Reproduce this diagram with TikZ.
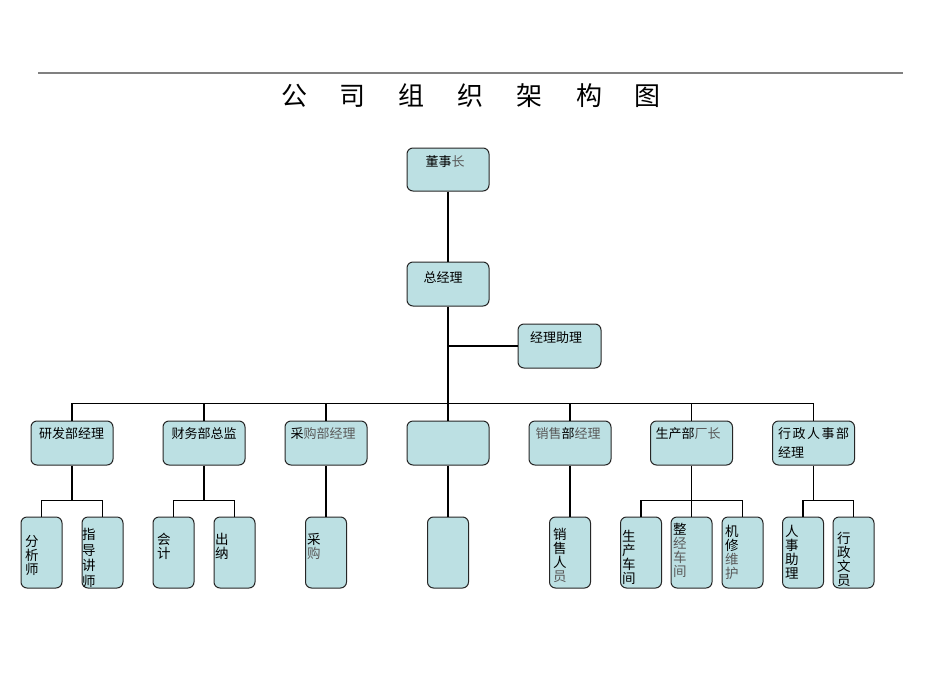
\documentclass[tikz,border=0pt]{standalone}
\usepackage{fontspec}
\newfontfamily\cjk{Noto Sans CJK SC}
\definecolor{boxfill}{HTML}{BCE0E3}
\definecolor{lightink}{HTML}{5A5A5A}
\definecolor{rulegray}{HTML}{808080}
\newcommand{\lt}[1]{\textcolor{lightink}{#1}}
\newcommand{\tsp}{\hspace{33pt}}
\begin{document}
\begin{tikzpicture}[x=1pt,y=-1pt,
  box/.style={draw=black!85, line width=1pt, fill=boxfill, rounded corners=6pt, inner sep=0pt},
  mbox/.style={box, minimum width=82pt, minimum height=44pt},
  sbox/.style={box, minimum width=41pt, minimum height=71pt},
  wire/.style={line width=1.6pt, black},
  lbl/.style={font=\cjk\fontsize{13}{15}\selectfont, inner sep=0pt},
  vlbl/.style={font=\cjk\fontsize{13.5}{14}\selectfont, inner sep=0pt, align=left, anchor=north west},
]
\useasboundingbox (0,0) rectangle (950,672);
\fill[white] (0,0) rectangle (950,672);

% title rule and title
\coordinate (ruleL) at (38,73);
\coordinate (ruleR) at (903,73);
\draw[rulegray, line width=1.3pt] (ruleL) -- (ruleR);
\node[font=\cjk\fontsize{26}{30}\selectfont, inner sep=0pt] (title) at (471,96)
  {公\tsp 司\tsp 组\tsp 织\tsp 架\tsp 构\tsp 图};

% top boxes
\node[mbox, minimum height=43pt] (dsz) at (448,169.5) {};
\node[mbox] (zjl) at (448,284) {};
\node[mbox, minimum width=83pt] (zlzl) at (559.5,346) {};

% level 2
\node[mbox] (yf) at (72,443) {};
\node[mbox] (cw) at (204,443) {};
\node[mbox] (cg) at (326,443) {};
\node[mbox] (kb) at (448,443) {};
\node[mbox] (xs) at (570,443) {};
\node[mbox] (sc) at (691.5,443) {};
\node[mbox] (xz) at (813.5,443) {};

% level 3
\node[sbox] (fxs) at (41.5,552.5) {};
\node[sbox] (zdjs) at (102.5,552.5) {};
\node[sbox] (kj) at (173.5,552.5) {};
\node[sbox] (cn) at (234.5,552.5) {};
\node[sbox] (cgy) at (326,552.5) {};
\node[sbox] (kb3) at (448,552.5) {};
\node[sbox] (xsry) at (570,552.5) {};
\node[sbox] (sccj) at (641,552.5) {};
\node[sbox] (zjcj) at (691.5,552.5) {};
\node[sbox] (jxwh) at (742.5,552.5) {};
\node[sbox] (rszl) at (803,552.5) {};
\node[sbox] (xzwy) at (853.5,552.5) {};

% connectors
\draw[wire] (dsz.south) -- (zjl.north);
\draw[wire] (zjl.south) -- (kb.north);
\draw[wire] (zjl.south |- zlzl.west) -- (zlzl.west);
\draw[wire] (yf.north) -- ++(0,-17) -| (xz.north);
\foreach \n in {cw,cg,xs,sc} \draw[wire] (\n.north) -- ++(0,-17);

\draw[wire] (yf.south) -- ++(0,35) coordinate (yfj);
\draw[wire] (fxs.north) |- (yfj) -| (zdjs.north);
\draw[wire] (cw.south) -- ++(0,35) coordinate (cwj);
\draw[wire] (kj.north) |- (cwj) -| (cn.north);
\draw[wire] (cg.south) -- (cgy.north);
\draw[wire] (kb.south) -- (kb3.north);
\draw[wire] (xs.south) -- (xsry.north);
\draw[wire] (sc.south) -- ++(0,35) coordinate (scj);
\draw[wire] (sccj.north) |- (scj) -| (jxwh.north);
\draw[wire] (scj) -- (zjcj.north);
\draw[wire] (xz.south) -- ++(0,35) coordinate (xzj);
\draw[wire] (rszl.north) |- (xzj) -| (xzwy.north);

% labels top
\node[lbl] (tdsz) at (445,162) {董事\lt{长}};
\node[lbl] (tzjl) at (443,277) {总经理};
\node[lbl] (tzlzl) at (556,338) {经理助理};

% labels level 2
\node[lbl] (tyf) at (71.5,434) {研发部经理};
\node[lbl] (tcw) at (204,434) {财务部总监};
\node[lbl] (tcg) at (323,434) {采\lt{购部经理}};
\node[lbl] (txs) at (568,434) {\lt{销售}部\lt{经理}};
\node[lbl] (tsc) at (688,434) {生产部\lt{厂长}};
\node[lbl, anchor=west] (txz1) at (778,434) {行\hspace{1.5pt}政\hspace{1.5pt}人\hspace{1.5pt}事\hspace{1.5pt}部};
\node[lbl, anchor=west] (txz2) at (778,452) {经理};

% labels level 3 (vertical)
\node[vlbl] (tfxs) at (25,535) {分\\析\\师};
\node[vlbl, font=\cjk\fontsize{13.5}{15.5}\selectfont] (tzdjs) at (82,528) {指\\导\\讲\\师};
\node[vlbl] (tkj) at (157,533) {会\\计};
\node[vlbl] (tcn) at (215,533) {出\\纳};
\node[vlbl] (tcgy) at (307,533) {采\\\lt{购}};
\node[vlbl] (txsry) at (553,528) {销\\售\\人\\\lt{员}};
\node[vlbl] (tsccj) at (622,530) {生\\产\\车\\间};
\node[vlbl] (tzjcj) at (673,523) {整\\\lt{经}\\\lt{车}\\\lt{间}};
\node[vlbl] (tjxwh) at (725,525) {机\\修\\\lt{维}\\\lt{护}};
\node[vlbl] (trszl) at (785,525) {人\\事\\助\\理};
\node[vlbl] (txzwy) at (837,532) {行\\政\\文\\员};
\end{tikzpicture}
\end{document}
